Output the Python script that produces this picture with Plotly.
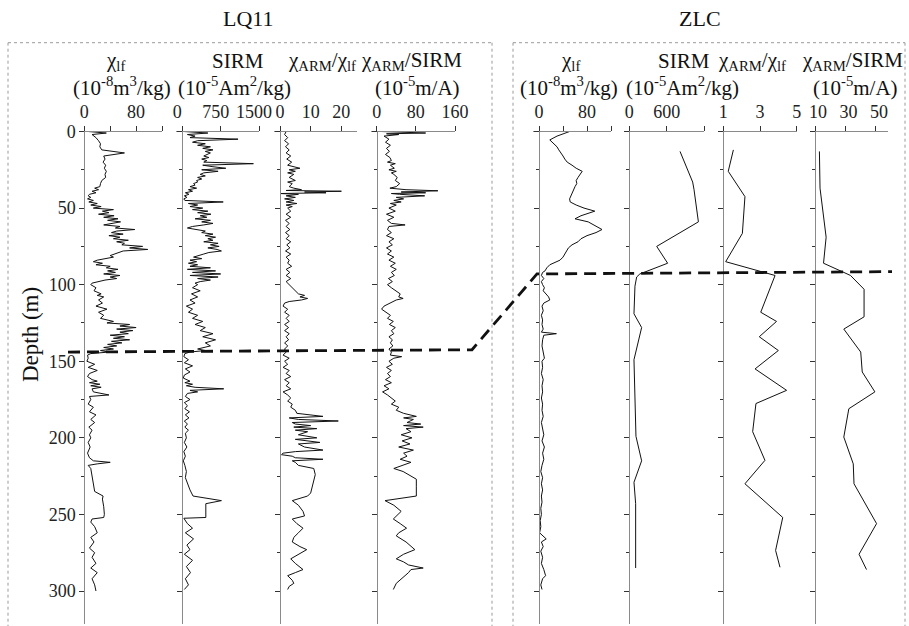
import plotly.graph_objects as go

# ---------------- DATA (depth m, value) ----------------
LQ11_CHI_LF = [
    (0, 6), (1, 34), (2, 12), (4, 18), (6, 22), (8, 25), (10, 24), (12, 27), (14, 62), (16, 30),
    (18, 32), (20, 29), (22, 33), (24, 31), (26, 34), (28, 32), (30, 33), (32, 27), (34, 25), (36, 24),
    (37, 16), (38, 22), (39, 12), (40, 18), (41, 8), (42, 6), (43, 10), (44, 5), (45, 14), (46, 7),
    (47, 20), (48, 10), (49, 26), (50, 14), (51, 45), (52, 28), (53, 38), (54, 22), (55, 46), (56, 30),
    (57, 52), (58, 36), (59, 56), (60, 40), (61, 30), (62, 55), (63, 48), (64, 78), (65, 50), (66, 42),
    (67, 60), (68, 38), (69, 55), (70, 45), (71, 68), (72, 50), (73, 62), (74, 58), (75, 90), (76, 70),
    (77, 98), (78, 60), (79, 52), (80, 48), (81, 40), (82, 45), (83, 30), (84, 20), (85, 14), (86, 28),
    (87, 18), (88, 40), (89, 34), (90, 52), (91, 36), (92, 48), (93, 30), (94, 55), (95, 40), (96, 50),
    (97, 32), (98, 20), (99, 12), (100, 10), (101, 14), (102, 18), (104, 15), (106, 26), (107, 20),
    (108, 30), (110, 22), (112, 28), (114, 18), (116, 35), (118, 22), (120, 30), (122, 25), (124, 45),
    (125, 35), (126, 70), (127, 55), (128, 80), (129, 50), (130, 75), (131, 55), (132, 68), (133, 40),
    (134, 62), (135, 45), (136, 70), (137, 42), (138, 58), (139, 36), (140, 50), (141, 30), (142, 45),
    (143, 25), (144, 38), (145, 10), (146, 5), (148, 6), (150, 4), (152, 16), (154, 6), (156, 20),
    (158, 8), (160, 5), (162, 12), (163, 20), (164, 8), (165, 24), (166, 10), (167, 26), (168, 12),
    (170, 14), (172, 38), (173, 8), (175, 10), (178, 6), (180, 14), (183, 8), (185, 18), (188, 10),
    (190, 16), (193, 7), (195, 12), (198, 8), (200, 10), (203, 6), (206, 9), (210, 5), (213, 8),
    (215, 14), (216, 40), (217, 20), (218, 6), (220, 10), (225, 12), (230, 14), (235, 16), (238, 29),
    (240, 28), (245, 30), (250, 31), (252, 30), (253, 12), (255, 10), (258, 16), (262, 20), (265, 10),
    (268, 15), (272, 8), (275, 16), (278, 12), (282, 18), (285, 10), (288, 20), (292, 12), (296, 16),
    (300, 18),
]

LQ11_SIRM = [
    (0, 30), (1, 500), (2, 100), (3, 250), (4, 150), (5, 1090), (6, 300), (7, 200), (8, 450), (9, 300),
    (10, 550), (11, 400), (12, 600), (13, 450), (14, 550), (15, 480), (16, 420), (17, 520), (18, 380),
    (19, 480), (20, 420), (21, 1390), (22, 400), (23, 600), (24, 850), (25, 380), (26, 700), (27, 420),
    (28, 350), (29, 450), (30, 300), (31, 380), (32, 280), (33, 300), (34, 220), (35, 250), (36, 150),
    (37, 280), (38, 120), (39, 200), (40, 60), (41, 130), (42, 40), (43, 90), (44, 30), (45, 50),
    (46, 800), (47, 120), (48, 300), (49, 150), (50, 400), (51, 200), (52, 500), (53, 300), (54, 560),
    (55, 350), (56, 480), (57, 250), (58, 550), (59, 380), (60, 600), (61, 420), (62, 200), (63, 100),
    (64, 250), (65, 450), (66, 380), (67, 600), (68, 450), (69, 650), (70, 500), (71, 600), (72, 420),
    (73, 700), (74, 550), (75, 720), (76, 500), (77, 680), (78, 765), (79, 520), (80, 420), (81, 300),
    (82, 220), (83, 380), (84, 150), (85, 280), (86, 120), (87, 300), (88, 150), (89, 550), (90, 100),
    (91, 650), (92, 200), (93, 750), (94, 150), (95, 700), (96, 300), (97, 550), (98, 350), (99, 250),
    (100, 300), (102, 200), (104, 350), (106, 180), (108, 300), (110, 150), (112, 250), (114, 80),
    (116, 200), (118, 120), (120, 300), (122, 200), (124, 400), (126, 250), (128, 450), (130, 350),
    (132, 600), (134, 400), (136, 650), (138, 450), (140, 550), (142, 300), (143, 450), (144, 150),
    (145, 50), (147, 30), (149, 120), (151, 40), (153, 200), (155, 60), (157, 150), (159, 40), (161, 20),
    (163, 150), (164, 50), (165, 200), (166, 80), (167, 250), (168, 810), (169, 150), (170, 300),
    (171, 100), (173, 60), (175, 150), (177, 40), (179, 100), (181, 50), (183, 140), (185, 60),
    (187, 130), (189, 40), (191, 100), (193, 50), (195, 120), (197, 60), (200, 80), (203, 40), (206, 90),
    (209, 30), (212, 60), (215, 20), (218, 50), (222, 80), (226, 60), (230, 100), (234, 150), (238, 210),
    (241, 765), (243, 460), (252, 460), (252.5, 30), (256, 100), (259, 200), (262, 60), (266, 220),
    (270, 90), (273, 150), (276, 40), (280, 200), (284, 80), (288, 160), (292, 60), (296, 120), (299, 40),
]

LQ11_ARM_CHI = [
    (0, 2), (2, 1.5), (4, 2.5), (6, 1.5), (8, 2.8), (10, 1.8), (12, 3), (14, 2), (16, 3.5), (18, 2.2),
    (20, 3.8), (22, 2.5), (24, 6.5), (25, 3), (26, 5), (27, 2.5), (28, 4.5), (30, 3), (32, 5), (33, 2.5),
    (34, 4), (36, 3), (37, 4.5), (38, 7), (38.5, 2), (39, 20), (39.5, 8), (40, 15), (40.5, 0), (41, 6),
    (42, 2), (43, 5), (44, 1.5), (45, 4.5), (46, 2), (47, 5.5), (48, 2), (49, 4), (50, 2.5), (52, 3.5),
    (54, 2), (56, 3.5), (58, 1.8), (60, 3), (62, 2), (64, 3.2), (66, 1.8), (68, 3), (70, 2), (72, 3.5),
    (74, 2.2), (76, 3.2), (78, 1.8), (80, 3.5), (82, 2), (84, 3), (86, 2.5), (88, 3.8), (90, 2),
    (92, 3.2), (94, 2), (96, 3.5), (98, 2), (100, 3), (102, 4), (104, 5), (106, 6), (107, 8), (108, 6.5),
    (109, 9), (110, 7), (111, 3), (112, 1.5), (114, 1), (116, 2.5), (118, 1.5), (120, 3), (122, 2),
    (124, 3), (126, 1.5), (128, 2.8), (130, 1.5), (132, 3), (134, 2), (136, 2.8), (138, 1.5), (140, 2.5),
    (142, 1.5), (144, 2), (146, 1), (148, 3), (150, 1.5), (152, 2.5), (154, 1), (156, 3), (158, 2),
    (160, 3.5), (162, 1.5), (164, 3), (166, 2), (168, 3.5), (170, 1), (172, 2.5), (174, 3.5), (176, 2.5),
    (178, 4), (180, 3.5), (182, 5), (184, 5.5), (186, 14), (187, 3), (188, 6), (189, 19), (190, 4),
    (191, 5), (192, 10), (193, 4.5), (194, 12), (195, 5), (196, 9), (198, 6), (200, 12), (201, 5),
    (203, 13), (204, 6), (206, 8), (208, 14), (209, 5), (210, 1), (211, 0.5), (212, 4), (213, 5),
    (214, 14), (215, 4), (216, 5), (218, 6), (220, 11), (224, 11.5), (228, 11), (232, 10.5), (236, 10),
    (238, 9), (241, 4), (244, 6), (248, 7.5), (251, 8), (253, 4), (256, 5.5), (259, 7.5), (262, 6),
    (265, 4.5), (268, 4), (271, 6.5), (273, 8.7), (276, 6), (279, 3.5), (282, 5), (286, 7.5), (288, 5),
    (290, 2.5), (293, 4), (295, 4.5), (297, 3), (299, 2.5),
]

LQ11_ARM_SIRM = [
    (0, 10), (1, 100), (1.5, 20), (2, 45), (3, 15), (5, 25), (7, 18), (9, 28), (11, 20), (13, 26),
    (15, 18), (17, 27), (19, 30), (20, 22), (21, 38), (22, 28), (24, 36), (25, 25), (26, 40), (27, 30),
    (28, 35), (30, 42), (32, 38), (34, 47), (36, 40), (37, 27), (38, 60), (38.7, 125), (39.5, 50),
    (40, 100), (40.5, 30), (41, 47), (42, 98), (43, 40), (44, 55), (45, 35), (46, 50), (47, 28), (48, 40),
    (50, 25), (52, 38), (54, 20), (56, 35), (58, 22), (60, 30), (61, 58), (62, 25), (64, 22), (66, 30),
    (68, 20), (70, 35), (72, 25), (74, 32), (76, 20), (78, 30), (80, 22), (82, 35), (84, 25), (86, 38),
    (88, 28), (90, 40), (92, 30), (94, 36), (96, 24), (98, 32), (100, 22), (102, 30), (104, 40),
    (106, 48), (108, 45), (109, 54), (110, 40), (112, 27), (114, 15), (116, 10), (118, 20), (120, 28),
    (122, 22), (124, 34), (126, 26), (128, 38), (130, 30), (132, 35), (134, 25), (136, 32), (138, 28),
    (140, 33), (142, 25), (144, 30), (146, 28), (147, 51), (148, 35), (150, 25), (152, 32), (154, 20),
    (156, 30), (158, 22), (160, 28), (162, 18), (164, 30), (166, 15), (168, 25), (170, 12), (172, 22),
    (174, 30), (176, 38), (178, 30), (180, 45), (182, 40), (184, 55), (186, 81), (187, 55), (188, 75),
    (190, 62), (191, 90), (192, 55), (193, 95), (194, 60), (196, 70), (198, 50), (200, 72), (202, 52),
    (204, 68), (206, 45), (208, 75), (210, 55), (212, 62), (214, 48), (216, 70), (218, 52), (220, 35),
    (222, 54), (227, 81), (232, 81), (238, 81), (241, 17), (244, 35), (248, 50), (251, 40), (253, 34),
    (256, 48), (259, 61), (262, 45), (264, 40), (268, 60), (273, 78), (276, 55), (279, 40), (281, 55),
    (283, 65), (285, 95), (286, 70), (288, 65), (292, 50), (295, 40), (299, 34),
]

ZLC_CHI_LF = [
    (0, 51), (3, 30), (5.5, 18), (8, 24), (10, 30), (12, 33), (14, 37), (16, 40), (18, 43), (20, 47),
    (22, 55), (24, 62), (26, 72), (28, 68), (30, 65), (32, 62), (34, 63), (36, 60), (40, 55), (44, 51),
    (46, 52), (48, 62), (50, 75), (52, 93), (55, 70), (57, 60), (59, 82), (62, 95), (64, 105), (66, 95),
    (68, 80), (70, 70), (72, 65), (74, 55), (76, 49), (78, 46), (80, 43), (82, 40), (84, 35), (86, 25),
    (87, 18), (89, 13), (91, 10), (92, 6), (94, 4), (96, 8), (98, 4), (100, 6), (102, 9), (104, 7),
    (106, 12), (108, 16), (110, 18), (112, 8), (114, 5), (117, 7), (120, 4), (123, 6), (126, 5),
    (129, 7), (131, 4), (132, 29), (133, 8), (136, 6), (140, 5), (144, 7), (148, 9), (150, 5), (154, 6),
    (158, 4), (162, 7), (166, 5), (170, 6), (174, 4), (178, 6), (182, 5), (186, 7), (190, 4), (194, 6),
    (198, 8), (202, 5), (206, 9), (210, 6), (214, 8), (218, 5), (222, 3), (226, 6), (230, 4), (234, 6),
    (238, 4), (242, 5), (246, 3), (250, 4), (254, 2), (258, 3), (262, 1), (266, 12), (268, 4), (271, 7),
    (274, 3), (278, 6), (282, 4), (286, 8), (290, 11), (292, 6), (296, 3), (299, 5),
]

ZLC_SIRM = [
    (13, 815), (33, 1018), (38, 1040), (59, 1110), (75, 440), (86, 616), (93, 170), (95, 118),
    (101, 91), (119, 75), (128, 198), (143, 110), (149, 75), (199, 107), (215, 198), (229, 75),
    (243, 102), (285, 102),
]

ZLC_ARM_CHI = [
    (12, 1.55), (26, 1.27), (42.5, 2.18), (66.5, 2.04), (85, 1.13), (94, 3.82), (118, 3.04),
    (124, 3.9), (134, 2.96), (143, 4.0), (155, 2.73), (169, 4.45), (177.6, 2.78), (196, 2.6),
    (214.7, 3.27), (230, 2.18), (252, 4.24), (273.5, 3.85), (284.5, 4.09),
]

ZLC_ARM_SIRM = [
    (13, 12.9), (37, 13.3), (69, 17.3), (86, 15.6), (91.5, 27.8), (94, 33.3), (103, 42.2),
    (121, 42.2), (129, 28.9), (144, 40), (157, 41), (170, 49.3), (181, 32.2), (199.5, 28.9),
    (217, 35.1), (230, 35.6), (256, 50.4), (276, 38.9), (286, 43.8),
]

# boundary depths (m) linked by the dashed line
BOUNDARY_LQ11 = [144, 142.5]
BOUNDARY_ZLC = [93, 91.5]

# axis scales: (min, max), tick values, tick labels
X_RANGES = [(0, 120), (0, 1500), (0, 25), (0, 160), (0, 120), (0, 1200), (1, 5), (10, 57.9)]
X_TICKS = [[0, 40, 80, 120], [0, 750, 1500], [0, 10, 20], [0, 80, 160],
           [0, 40, 80, 120], [0, 600, 1200], [1, 3, 5], [10, 30, 50]]
X_TICKTEXT = [["0", "", "80", ""], ["0", "750", "1500"], ["0", "10", "20"], ["0", "80", "160"],
              ["0", "", "80", ""], ["0", "600", ""], ["1", "3", "5"], ["10", "30", "50"]]
X_LABEL_SHIFT = [0, -5, 0, 0, 0, 0, 0, 3]
DEPTH_TICKS = [0, 50, 100, 150, 200, 250, 300]

SERIES = [LQ11_CHI_LF, LQ11_SIRM, LQ11_ARM_CHI, LQ11_ARM_SIRM,
          ZLC_CHI_LF, ZLC_SIRM, ZLC_ARM_CHI, ZLC_ARM_SIRM]

HEAD1 = ["χ<sub>lf</sub>", "SIRM", "χ<sub>ARM</sub>/χ<sub>lf</sub>", "χ<sub>ARM</sub>/SIRM",
         "χ<sub>lf</sub>", "SIRM", "χ<sub>ARM</sub>/χ<sub>lf</sub>", "χ<sub>ARM</sub>/SIRM"]
HEAD2 = ["(10<sup>-8</sup>m<sup>3</sup>/kg)", "(10<sup>-5</sup>Am<sup>2</sup>/kg)", "", "(10<sup>-5</sup>m/A)",
         "(10<sup>-8</sup>m<sup>3</sup>/kg)", "(10<sup>-5</sup>Am<sup>2</sup>/kg)", "", "(10<sup>-5</sup>m/A)"]

# ---------------- LAYOUT GEOMETRY (pixels) ----------------
W, H = 909, 626
ZERO_PX = [84.3, 182.3, 280, 376.7, 539, 629.3, 723.3, 815]
END_PX = [162, 259, 356.7, 455, 611, 704, 796.7, 888]
OVERHANG = [3, 6, 6, 6, 6, 5, 5, 5]
HEAD1_X = [115, 238, 322, 411, 570, 684, 752, 852]
HEAD2_X = [122, 235, 322, 417, 569, 682, 752, 855]
Y_TOP, Y_BOT = 131.5, 624
PX_PER_M = (591 - 131.5) / 300.0

FONT = "Liberation Serif"
AX_LINE = "#8a8a8a"
TICK_C = "#333333"


def pxx(x):
    return x / W


def pxy(y):
    return 1 - y / H


fig = go.Figure()
layout = dict(
    width=W, height=H, margin=dict(l=0, r=0, t=0, b=0, pad=0), autosize=False,
    paper_bgcolor="white", plot_bgcolor="white", showlegend=False,
    font=dict(family=FONT, color="#111"),
)

depth_max = (Y_BOT - Y_TOP) / PX_PER_M
ydom = [pxy(Y_BOT), pxy(Y_TOP)]

for i, data in enumerate(SERIES):
    n = i + 1
    xs = "x" if n == 1 else f"x{n}"
    ys = "y" if n == 1 else f"y{n}"
    depths = [d for d, _ in data]
    vals = [v for _, v in data]
    fig.add_trace(go.Scatter(x=vals, y=depths, mode="lines", xaxis=xs, yaxis=ys,
                             line=dict(color="#111", width=1), hoverinfo="skip"))
    v0, v1 = X_RANGES[i]
    ppu = (END_PX[i] - ZERO_PX[i]) / (v1 - v0)
    left_px = ZERO_PX[i] - OVERHANG[i]
    layout["xaxis" if n == 1 else f"xaxis{n}"] = dict(
        domain=[pxx(left_px), pxx(END_PX[i])],
        range=[v0 - OVERHANG[i] / ppu, v1],
        side="top", anchor=ys, showline=True, linecolor=AX_LINE, linewidth=1,
        ticks="outside", ticklen=5, tickcolor=TICK_C, tickwidth=1,
        tickvals=X_TICKS[i], ticktext=X_TICKTEXT[i], tickangle=0,
        ticklabelshift=X_LABEL_SHIFT[i],
        tickfont=dict(family=FONT, size=18, color="#222"),
        showgrid=False, zeroline=False, fixedrange=True, automargin=False,
    )
    layout["yaxis" if n == 1 else f"yaxis{n}"] = dict(
        domain=ydom, range=[depth_max, 0], anchor="free", position=pxx(ZERO_PX[i]),
        showline=True, linecolor=AX_LINE, linewidth=1,
        ticks="outside", ticklen=5, tickcolor=TICK_C, tickwidth=1,
        tickvals=DEPTH_TICKS, showticklabels=(n == 1), tickangle=0,
        minor=dict(dtick=25, ticklen=3, ticks="outside", tickcolor=TICK_C, tickwidth=1),
        tickfont=dict(family=FONT, size=18, color="#222"),
        showgrid=False, zeroline=False, fixedrange=True, automargin=False,
    )

annotations = []
for i in range(8):
    annotations.append(dict(text=HEAD1[i], x=pxx(HEAD1_X[i]), y=pxy(61), xref="paper", yref="paper",
                            xanchor="center", yanchor="middle", showarrow=False,
                            font=dict(family=FONT, size=21, color="#111")))
    if HEAD2[i]:
        annotations.append(dict(text=HEAD2[i], x=pxx(HEAD2_X[i]), y=pxy(87), xref="paper", yref="paper",
                                xanchor="center", yanchor="middle", showarrow=False,
                                font=dict(family=FONT, size=21, color="#111")))

annotations.append(dict(text="LQ11", x=pxx(248), y=pxy(18), xref="paper", yref="paper",
                        xanchor="center", yanchor="middle", showarrow=False,
                        font=dict(family=FONT, size=22, color="#111")))
annotations.append(dict(text="ZLC", x=pxx(700), y=pxy(18), xref="paper", yref="paper",
                        xanchor="center", yanchor="middle", showarrow=False,
                        font=dict(family=FONT, size=22, color="#111")))
annotations.append(dict(text="Depth (m)", x=pxx(30), y=pxy(334), xref="paper", yref="paper",
                        xanchor="center", yanchor="middle", showarrow=False, textangle=-90,
                        font=dict(family=FONT, size=23, color="#111")))
layout["annotations"] = annotations

shapes = []
# dotted group frames
for (x0, x1) in [(8, 492), (513, 905)]:
    for seg in [(x0, 42.7, x1, 42.7), (x0, 42.7, x0, 626), (x1, 42.7, x1, 626)]:
        shapes.append(dict(type="line", xref="paper", yref="paper",
                           x0=pxx(seg[0]), y0=pxy(seg[1]), x1=pxx(seg[2]), y1=pxy(seg[3]),
                           line=dict(color="#9a9a9a", width=1, dash="dot")))
# dashed correlation line (depths via depth axis)
xa, xb, xc, xd = pxx(68), pxx(472), pxx(537), pxx(892)
path = (f"M {xa},{BOUNDARY_LQ11[0]} L {xb},{BOUNDARY_LQ11[1]} "
        f"L {xc},{BOUNDARY_ZLC[0]} L {xd},{BOUNDARY_ZLC[1]}")
shapes.append(dict(type="path", xref="paper", yref="y", path=path,
                   line=dict(color="#111", width=2.8, dash="12px,7px")))
layout["shapes"] = shapes

fig.update_layout(**layout)
fig.write_html("out.html", config={"responsive": False, "displayModeBar": False},
               post_script="document.body.style.margin='0';document.body.style.padding='0';"
                           "document.documentElement.style.overflow='hidden';")
